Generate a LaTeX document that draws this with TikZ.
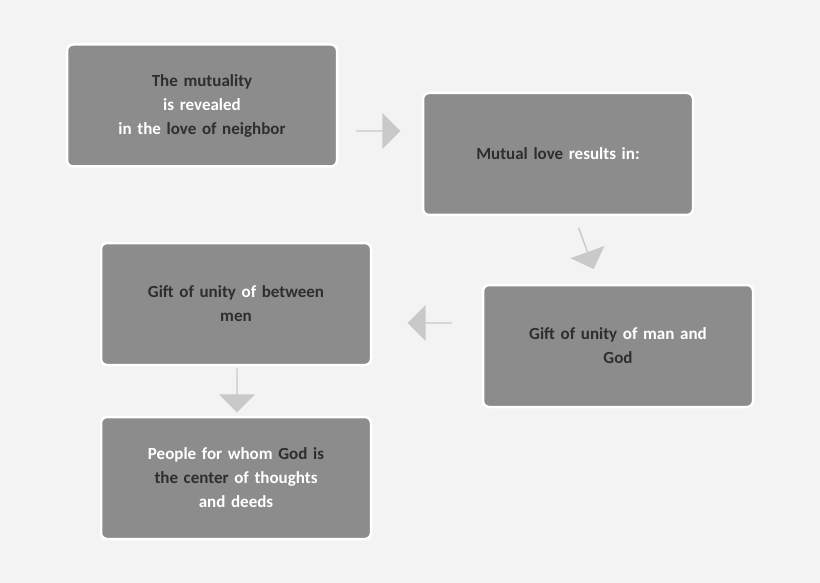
\documentclass[tikz,border=0pt]{standalone}
\usepackage{fontspec}
\setmainfont{Carlito}
\usetikzlibrary{shapes.arrows}
\definecolor{bg}{HTML}{F3F3F3}
\definecolor{boxc}{HTML}{8C8C8C}
\definecolor{dk}{HTML}{2E2E2E}
\definecolor{arr}{HTML}{C9C9C9}
\tikzset{
 box/.style={draw=white,line width=2.5pt,fill=boxc,rounded corners=6pt,minimum width=270pt,minimum height=122pt,align=center,text width=250pt,font=\fontsize{17}{24}\selectfont\bfseries,text=dk},
 arrw/.style={single arrow,fill=arr,draw=none,minimum width=36pt,single arrow head extend=5pt,single arrow tip angle=90,minimum height=44pt,inner sep=0pt},
}
\newcommand{\w}[1]{\textcolor{white}{#1}}
\begin{document}
\begin{tikzpicture}[x=1pt,y=-1pt]
\fill[bg] (0,0) rectangle (820,583);
\useasboundingbox (0,0) rectangle (820,583);
\node[box] (b1) at (202,105.5) {The mutuality\\\w{is revealed}\\\w{in the} love of neighbor};
\node[box] (b2) at (558,154) {Mutual love \w{results in:}};
\node[box] (b3) at (236,304) {Gift of unity \w{of} between\\men};
\node[box] (b4) at (618,346) {Gift of unity \w{of man and}\\God};
\node[box] (b5) at (236,478) {\w{People for whom} God is\\the center \w{of thoughts}\\\w{and deeds}};
\node[arrw] (a1) at (378,131) {};
\node[arrw,rotate=-70] (a2) at (586,248) {};
\node[arrw,rotate=180] (a3) at (430,323) {};
\node[arrw,rotate=-90] (a4) at (237,390) {};
\end{tikzpicture}
\end{document}
